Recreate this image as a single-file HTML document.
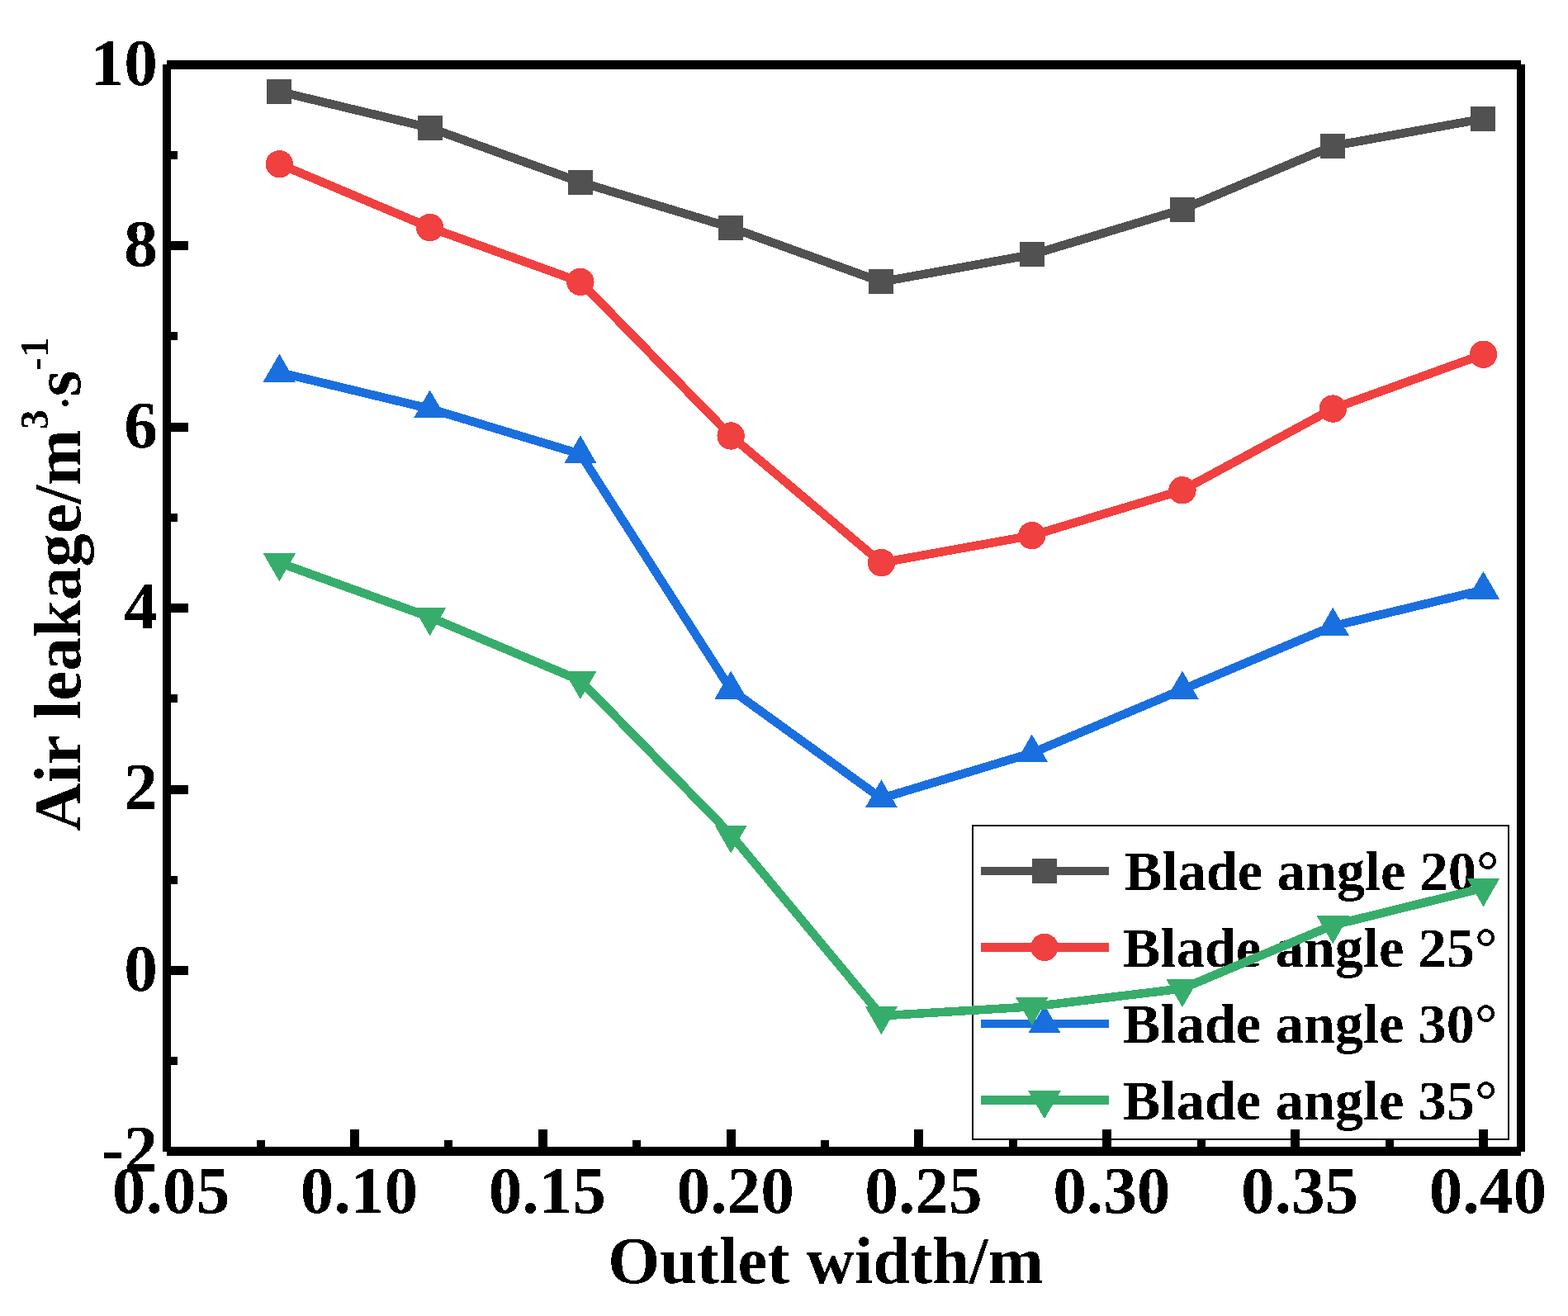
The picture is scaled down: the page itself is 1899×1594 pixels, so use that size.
<!DOCTYPE html>
<html><head><meta charset="utf-8"><style>
html,body{margin:0;padding:0;background:#fff;}
svg{display:block;}
rect,polyline,polygon,circle{shape-rendering:crispEdges;}
text{filter:url(#bin);font-family:"Liberation Serif","Times New Roman",serif;font-weight:bold;fill:#000;}
.tk{font-size:81.3px;}
.tt{font-size:81px;}
.lg{font-size:68.5px;}
.sup{font-size:48px;}
</style></head><body>
<svg width="1899" height="1594" viewBox="0 0 1899 1594">
<defs><filter id="bin"><feComponentTransfer><feFuncA type="discrete" tableValues="0 1"/></feComponentTransfer></filter></defs>
<rect width="1899" height="1594" fill="#fff"/>
<rect x="1178" y="1000" width="649" height="380" fill="none" stroke="#000" stroke-width="2"/>
<rect x="1188" y="1049.55" width="155" height="10.5" fill="#515151"/>
<rect x="1250.00" y="1039.80" width="30" height="30" fill="#515151"/>
<text x="1361.8" y="1077.6" class="lg">Blade angle 20°</text>
<rect x="1188" y="1142.15" width="155" height="10.5" fill="#F14040"/>
<circle cx="1265.00" cy="1147.40" r="16.7" fill="#F14040"/>
<text x="1359.8" y="1170.6" class="lg">Blade angle 25°</text>
<rect x="1188" y="1234.85" width="155" height="10.5" fill="#1A6FDF"/>
<polygon points="1265.00,1217.40 1284.66,1251.45 1245.34,1251.45" fill="#1A6FDF"/>
<text x="1359.8" y="1263.3" class="lg">Blade angle 30°</text>
<rect x="1188" y="1327.35" width="155" height="10.5" fill="#37AD6B"/>
<polygon points="1265.00,1355.30 1284.66,1321.25 1245.34,1321.25" fill="#37AD6B"/>
<text x="1359.8" y="1355.7" class="lg">Blade angle 35°</text>
<polyline points="338.37,110.93 520.63,154.82 702.90,220.68 885.16,275.55 1067.42,341.40 1249.69,308.47 1431.95,253.60 1614.22,176.78 1796.48,143.85" fill="none" stroke="#515151" stroke-width="10.5" stroke-linejoin="round"/>
<rect x="323.37" y="95.93" width="30" height="30" fill="#515151"/>
<rect x="505.63" y="139.82" width="30" height="30" fill="#515151"/>
<rect x="687.90" y="205.68" width="30" height="30" fill="#515151"/>
<rect x="870.16" y="260.55" width="30" height="30" fill="#515151"/>
<rect x="1052.42" y="326.40" width="30" height="30" fill="#515151"/>
<rect x="1234.69" y="293.47" width="30" height="30" fill="#515151"/>
<rect x="1416.95" y="238.60" width="30" height="30" fill="#515151"/>
<rect x="1599.22" y="161.78" width="30" height="30" fill="#515151"/>
<rect x="1781.48" y="128.85" width="30" height="30" fill="#515151"/>
<polyline points="338.37,198.72 520.63,275.55 702.90,341.40 885.16,527.97 1067.42,681.62 1249.69,648.70 1431.95,593.83 1614.22,495.05 1796.48,429.20" fill="none" stroke="#F14040" stroke-width="10.5" stroke-linejoin="round"/>
<circle cx="338.37" cy="198.72" r="16.7" fill="#F14040"/>
<circle cx="520.63" cy="275.55" r="16.7" fill="#F14040"/>
<circle cx="702.90" cy="341.40" r="16.7" fill="#F14040"/>
<circle cx="885.16" cy="527.97" r="16.7" fill="#F14040"/>
<circle cx="1067.42" cy="681.62" r="16.7" fill="#F14040"/>
<circle cx="1249.69" cy="648.70" r="16.7" fill="#F14040"/>
<circle cx="1431.95" cy="593.83" r="16.7" fill="#F14040"/>
<circle cx="1614.22" cy="495.05" r="16.7" fill="#F14040"/>
<circle cx="1796.48" cy="429.20" r="16.7" fill="#F14040"/>
<polyline points="338.37,451.15 520.63,495.05 702.90,549.92 885.16,835.27 1067.42,966.98 1249.69,912.10 1431.95,835.27 1614.22,758.45 1796.48,714.55" fill="none" stroke="#1A6FDF" stroke-width="10.5" stroke-linejoin="round"/>
<polygon points="338.37,428.45 358.03,462.50 318.71,462.50" fill="#1A6FDF"/>
<polygon points="520.63,472.35 540.29,506.40 500.97,506.40" fill="#1A6FDF"/>
<polygon points="702.90,527.22 722.55,561.27 683.24,561.27" fill="#1A6FDF"/>
<polygon points="885.16,812.57 904.82,846.62 865.50,846.62" fill="#1A6FDF"/>
<polygon points="1067.42,944.27 1087.08,978.33 1047.77,978.33" fill="#1A6FDF"/>
<polygon points="1249.69,889.40 1269.35,923.45 1230.03,923.45" fill="#1A6FDF"/>
<polygon points="1431.95,812.57 1451.61,846.62 1412.29,846.62" fill="#1A6FDF"/>
<polygon points="1614.22,735.75 1633.87,769.80 1594.56,769.80" fill="#1A6FDF"/>
<polygon points="1796.48,691.85 1816.14,725.90 1776.82,725.90" fill="#1A6FDF"/>
<polyline points="338.37,681.62 520.63,747.48 702.90,824.30 885.16,1010.88 1067.42,1230.38 1249.69,1219.40 1431.95,1197.45 1614.22,1120.62 1796.48,1075.63" fill="none" stroke="#37AD6B" stroke-width="10.5" stroke-linejoin="round"/>
<polygon points="338.37,704.33 358.03,670.27 318.71,670.27" fill="#37AD6B"/>
<polygon points="520.63,770.18 540.29,736.12 500.97,736.12" fill="#37AD6B"/>
<polygon points="702.90,847.00 722.55,812.95 683.24,812.95" fill="#37AD6B"/>
<polygon points="885.16,1033.58 904.82,999.52 865.50,999.52" fill="#37AD6B"/>
<polygon points="1067.42,1253.08 1087.08,1219.03 1047.77,1219.03" fill="#37AD6B"/>
<polygon points="1249.69,1242.10 1269.35,1208.05 1230.03,1208.05" fill="#37AD6B"/>
<polygon points="1431.95,1220.15 1451.61,1186.10 1412.29,1186.10" fill="#37AD6B"/>
<polygon points="1614.22,1143.33 1633.87,1109.28 1594.56,1109.28" fill="#37AD6B"/>
<polygon points="1796.48,1098.33 1816.14,1064.28 1776.82,1064.28" fill="#37AD6B"/>
<rect x="202" y="73" width="1640" height="11" fill="#000"/>
<rect x="202" y="1389" width="1640" height="11" fill="#000"/>
<rect x="197" y="78" width="10" height="1317" fill="#000"/>
<rect x="1837" y="78" width="10" height="1317" fill="#000"/>
<rect x="310.59" y="1381" width="10" height="9" fill="#000"/>
<rect x="424.00" y="1368" width="11" height="22" fill="#000"/>
<rect x="538.41" y="1381" width="10" height="9" fill="#000"/>
<rect x="651.83" y="1368" width="11" height="22" fill="#000"/>
<rect x="766.24" y="1381" width="10" height="9" fill="#000"/>
<rect x="879.66" y="1368" width="11" height="22" fill="#000"/>
<rect x="994.08" y="1381" width="10" height="9" fill="#000"/>
<rect x="1107.49" y="1368" width="11" height="22" fill="#000"/>
<rect x="1221.91" y="1381" width="10" height="9" fill="#000"/>
<rect x="1335.32" y="1368" width="11" height="22" fill="#000"/>
<rect x="1449.74" y="1381" width="10" height="9" fill="#000"/>
<rect x="1563.15" y="1368" width="11" height="22" fill="#000"/>
<rect x="1677.57" y="1381" width="10" height="9" fill="#000"/>
<rect x="1790.98" y="1368" width="11" height="22" fill="#000"/>
<rect x="206" y="1280.25" width="9" height="10" fill="#000"/>
<rect x="206" y="1170.00" width="22" height="11" fill="#000"/>
<rect x="206" y="1060.75" width="9" height="10" fill="#000"/>
<rect x="206" y="950.50" width="22" height="11" fill="#000"/>
<rect x="206" y="841.25" width="9" height="10" fill="#000"/>
<rect x="206" y="731.00" width="22" height="11" fill="#000"/>
<rect x="206" y="621.75" width="9" height="10" fill="#000"/>
<rect x="206" y="511.50" width="22" height="11" fill="#000"/>
<rect x="206" y="402.25" width="9" height="10" fill="#000"/>
<rect x="206" y="292.00" width="22" height="11" fill="#000"/>
<rect x="206" y="182.75" width="9" height="10" fill="#000"/>
<text x="207.17" y="1469" class="tk" text-anchor="middle">0.05</text>
<text x="435.00" y="1469" class="tk" text-anchor="middle">0.10</text>
<text x="662.83" y="1469" class="tk" text-anchor="middle">0.15</text>
<text x="890.66" y="1469" class="tk" text-anchor="middle">0.20</text>
<text x="1118.49" y="1469" class="tk" text-anchor="middle">0.25</text>
<text x="1346.32" y="1469" class="tk" text-anchor="middle">0.30</text>
<text x="1574.15" y="1469" class="tk" text-anchor="middle">0.35</text>
<text x="1801.98" y="1469" class="tk" text-anchor="middle">0.40</text>
<text x="191" y="1418.80" class="tk" text-anchor="end">-2</text>
<text x="191" y="1200.10" class="tk" text-anchor="end">0</text>
<text x="191" y="979.80" class="tk" text-anchor="end">2</text>
<text x="191" y="761.10" class="tk" text-anchor="end">4</text>
<text x="191" y="541.60" class="tk" text-anchor="end">6</text>
<text x="191" y="322.10" class="tk" text-anchor="end">8</text>
<text x="191" y="102.60" class="tk" text-anchor="end">10</text>
<text x="736.3" y="1553.8" class="tt" style="font-size:80.8px">Outlet width/m</text>
<text transform="translate(97,1007) rotate(-90)" class="tt">Air leakage/m<tspan class="sup" dy="-39.4">3</tspan><tspan class="sup" dy="37.8">·</tspan><tspan dy="1.6">s</tspan><tspan class="sup" dy="-39.4">-1</tspan></text>
</svg>
</body></html>
